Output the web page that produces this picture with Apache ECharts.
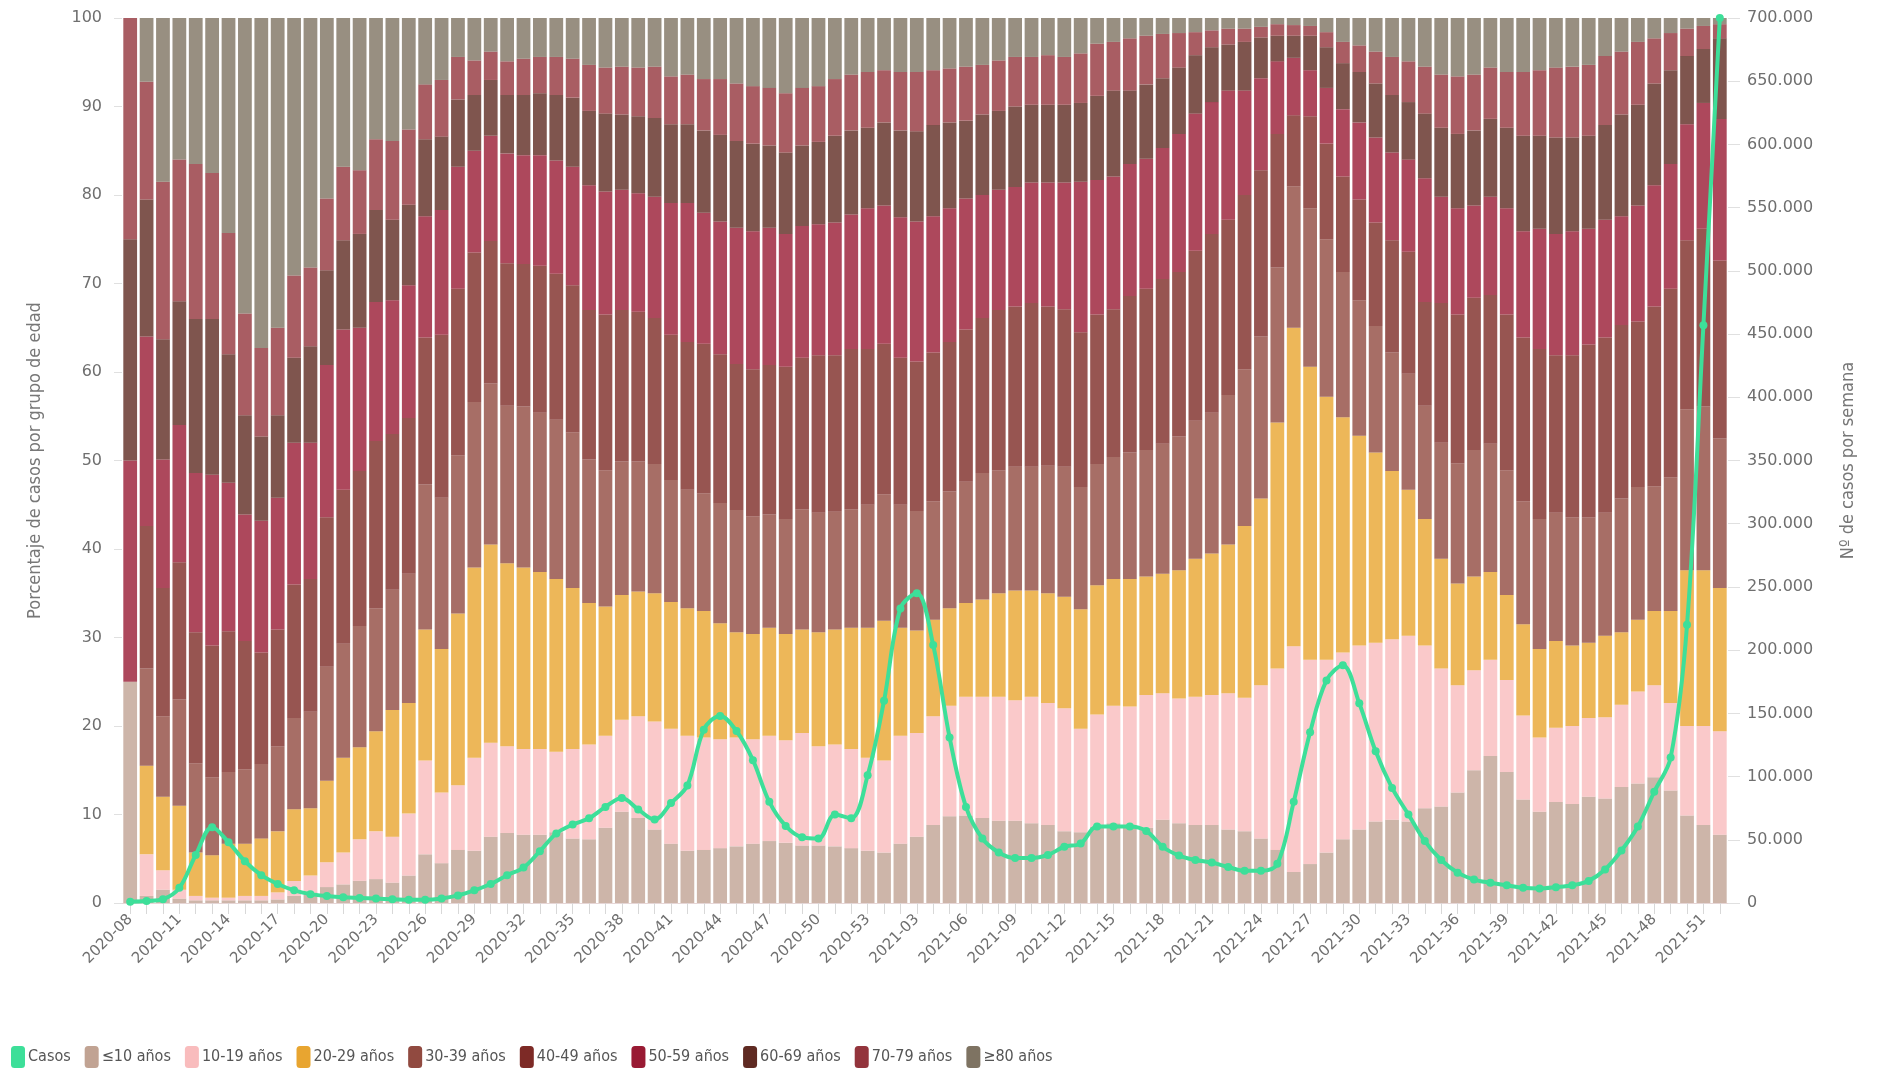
<!DOCTYPE html>
<html>
<head>
<meta charset="utf-8">
<script src="https://cdn.jsdelivr.net/npm/echarts@6/dist/echarts.min.js"></script>
<style>
html,body{margin:0;padding:0;background:#fff;}
#chart{width:1877px;height:1068px;}
</style>
</head>
<body>
<div id="chart"></div>
<script>
// Week labels 2020-08 .. 2020-53, 2021-01 .. 2021-52
const weeks = [
'2020-08','2020-09','2020-10','2020-11','2020-12','2020-13','2020-14','2020-15','2020-16','2020-17',
'2020-18','2020-19','2020-20','2020-21','2020-22','2020-23','2020-24','2020-25','2020-26','2020-27',
'2020-28','2020-29','2020-30','2020-31','2020-32','2020-33','2020-34','2020-35','2020-36','2020-37',
'2020-38','2020-39','2020-40','2020-41','2020-42','2020-43','2020-44','2020-45','2020-46','2020-47',
'2020-48','2020-49','2020-50','2020-51','2020-52','2020-53','2021-01','2021-02','2021-03','2021-04',
'2021-05','2021-06','2021-07','2021-08','2021-09','2021-10','2021-11','2021-12','2021-13','2021-14',
'2021-15','2021-16','2021-17','2021-18','2021-19','2021-20','2021-21','2021-22','2021-23','2021-24',
'2021-25','2021-26','2021-27','2021-28','2021-29','2021-30','2021-31','2021-32','2021-33','2021-34',
'2021-35','2021-36','2021-37','2021-38','2021-39','2021-40','2021-41','2021-42','2021-43','2021-44',
'2021-45','2021-46','2021-47','2021-48','2021-49','2021-50','2021-51','2021-52'];

const groupNames = ['≤10 años','10-19 años','20-29 años','30-39 años','40-49 años','50-59 años','60-69 años','70-79 años','≥80 años'];

const age0_9 = [25,0.8,1.5,0.5,0.3,0.3,0.3,0.3,0.3,0.4,
0.8,1.2,1.8,2.1,2.5,2.7,2.3,3.1,5.5,4.5,
6,5.9,7.5,7.9,7.7,7.7,8,7.3,7.2,8.5,
10.3,9.6,8.3,6.7,5.9,6,6.2,6.4,6.7,7,
6.8,6.5,6.5,6.4,6.2,5.9,5.7,6.7,7.5,8.8,
9.8,9.9,9.6,9.3,9.3,9,8.8,8.1,8,8.6,
9,8.8,8.5,9.4,9,8.8,8.8,8.3,8.1,7.3,
6,3.5,4.4,5.7,7.2,8.3,9.2,9.4,9.2,10.7,
10.9,12.5,15,16.6,14.8,11.7,10.3,11.4,11.2,12,
11.8,13.1,13.5,14.2,12.7,9.9,8.8,7.7];

const age10_19 = [0,4.7,2.2,1,0.5,0.3,0.3,0.5,0.5,0.8,
1.7,1.9,2.8,3.6,4.7,5.4,5.2,7,10.6,8,
7.3,10.5,10.6,9.8,9.7,9.7,9.1,10.1,10.7,10.4,
10.4,11.5,12.2,13,13,12.7,12.3,12.3,11.8,11.9,
11.6,12.7,11.2,11.5,11.2,10.5,10.4,12.2,11.7,12.3,
12.5,13.4,13.7,14,13.6,14.3,13.8,13.9,11.7,12.7,
13.3,13.4,15,14.3,14.1,14.5,14.7,15.4,15.1,17.3,
20.5,25.5,23.1,21.8,21.1,20.8,20.2,20.4,21,18.4,
15.6,12.1,11.3,10.9,10.4,9.5,8.4,8.4,8.8,8.9,
9.2,9.3,10.4,10.4,9.9,10.1,11.2,11.7];

const age20_29 = [0,10,8.3,9.5,4.9,4.8,6.1,5.9,6.5,6.9,
8.1,7.6,9.2,10.7,10.4,11.3,14.3,12.5,14.8,16.2,
19.4,21.5,22.4,20.7,20.5,20,19.5,18.2,16,14.6,
14.1,14.1,14.5,14.3,14.4,14.3,13.1,11.9,11.9,12.2,
12,11.7,12.9,13,13.7,14.7,15.8,12.2,11.6,10.9,
11,10.6,11,11.7,12.4,12,12.4,12.6,13.5,14.6,
14.3,14.4,13.4,13.5,14.5,15.6,16,16.8,19.4,21.1,
27.8,36,33.1,29.7,26.6,23.7,21.5,19,16.5,14.3,
12.4,11.5,10.6,9.9,9.6,10.3,10,9.8,9.1,8.5,
9.2,8.2,8.1,8.4,10.4,17.6,17.6,16.2];

const age30_39 = [0,11,9.1,12,10.1,8.8,8.1,8.4,8.4,9.6,
10.3,10.9,12.9,12.9,13.7,13.9,13.6,14.6,16.4,17.1,
17.9,18.7,18.2,17.8,18.2,18,18,17.6,16.2,15.4,
15.1,14.7,14.6,13.8,13.4,13.3,13.6,13.8,13.3,12.8,
13,13.6,13.5,13.3,13.4,13.9,14.3,13.9,13.5,13.4,
13.2,13.7,14.3,13.9,14,14,14.4,14.7,13.8,13.7,
13.8,14.3,14.3,14.7,15.1,15.6,15.9,16.9,17.7,18.3,
17.5,16,17.9,17.8,16.4,15.3,14.3,13.4,13.1,12.8,
13.1,13.6,14.3,14.5,14.1,13.9,14.7,14.5,14.5,14.2,
13.9,15.1,15,14.1,15.1,18.2,18.5,16.9];

const age40_49 = [0,16.1,14.5,15.5,14.8,14.9,15.9,14.5,12.6,13.2,
15.1,15,16.9,17.4,17.5,18.9,17.6,17.6,16.6,18.4,
18.8,16.9,16.1,16.1,16.1,16.6,16.5,16.6,16.9,17.6,
17.1,16.9,16.5,16.4,16.7,16.9,16.8,16.5,16.6,16.9,
17.2,17.1,17.8,17.7,18.1,17.6,17,16.6,16.9,16.8,
16.9,17.2,17.5,18.1,18.1,18.5,18,17.8,17.5,16.9,
16.7,17.7,18.2,18.6,18.6,19.2,20.2,19.8,19.7,18.8,
15.1,8,10.4,10.8,10.8,11.4,11.7,12.7,13.8,11.7,
15.8,16.8,17.2,16.8,17.6,18.5,19.2,17.8,18.3,19.5,
19.8,19.6,18.7,20.3,21.3,19.1,20.1,20.1];

const age50_59 = [25,21.4,14.5,15.5,18,19.3,16.8,14.3,14.9,14.9,
16,15.4,17.2,18.1,16.2,15.7,15.1,15,13.7,14.1,
13.8,11.5,11.9,12.4,12.3,12.5,12.8,13.4,14.1,13.9,
13.6,13.4,13.7,14.9,15.7,14.8,15,15.4,15.6,15.5,
15,14.9,14.8,15,15.2,15.9,15.6,15.9,15.8,15.4,
15.1,14.8,13.9,13.6,13.5,13.6,14,14.3,17,15.2,
15,14.9,14.7,14.8,15.6,15.5,14.9,14.6,11.8,10.4,
8.2,6.5,5.2,6.3,7.6,8.7,9.6,9.9,10.4,14,
12,12,10.4,11.1,12,12,13.6,13.7,14,13.1,
13.3,12.3,13.1,13.7,14.1,13.1,14.2,16];

const age60_69 = [25,15.5,13.6,14,17.4,17.6,14.5,11.2,9.5,9.3,
9.6,10.9,10.7,10.1,10.6,10.4,9.1,9.1,8.7,8.3,
7.6,6.3,6.3,6.6,6.8,7,7.4,7.8,8.4,8.8,
8.5,8.7,8.9,8.9,8.9,9.3,9.8,9.8,9.9,9.3,
9.2,9.1,9.3,9.8,9.5,9.1,9.4,9.8,10.2,10.3,
9.7,8.8,9.1,8.9,9.1,8.8,8.8,8.8,8.9,9.5,
9.7,8.3,8.4,7.9,7.5,6.6,6.2,5.2,5.5,4.6,
2.9,2.5,3.9,4.6,5.2,5.7,6.1,6.5,6.5,7.3,
7.8,8.4,8.5,8.8,9.1,10.8,10.5,10.9,10.6,10.5,
10.7,11.5,11.4,11.5,10.6,7.7,6.1,9.1];

const age70_79 = [25,13.3,17.8,16,17.5,16.5,13.7,11.5,10,9.9,
9.3,8.9,8.1,8.3,7.2,8,8.9,8.5,6.2,6.4,
4.8,3.9,3.2,3.8,4.1,4.1,4.3,4.4,5.2,5.2,
5.4,5.5,5.8,5.4,5.6,5.8,6.3,6.5,6.5,6.5,
6.7,6.5,6.3,6.4,6.3,6.3,5.9,6.6,6.7,6.2,
6.1,6.1,5.6,5.7,5.6,5.4,5.6,5.4,5.6,5.9,
5.5,5.9,5.5,5,3.9,2.6,1.9,1.8,1.5,1.2,
1.3,1.2,1.1,1.7,2.4,3,3.6,4.3,4.6,5.3,
6,6.5,6.3,5.8,6.3,7.2,7.4,7.9,8,8,
7.8,7.1,7.1,5.1,4.2,3.1,2.6,1.6];

const age80plus = [0,7.2,18.5,16,16.5,17.5,24.3,33.4,37.3,35,
29.1,28.2,20.4,16.8,17.2,13.7,13.9,12.6,7.5,7,
4.4,4.8,3.8,4.9,4.6,4.4,4.4,4.6,5.3,5.6,
5.5,5.6,5.5,6.6,6.4,6.9,6.9,7.4,7.7,7.9,
8.5,7.9,7.7,6.9,6.4,6.1,5.9,6.1,6.1,5.9,
5.7,5.5,5.3,4.8,4.4,4.4,4.2,4.4,4,2.9,
2.7,2.3,2,1.8,1.7,1.6,1.4,1.2,1.2,1,
0.7,0.8,0.9,1.6,2.7,3.1,3.8,4.4,4.9,5.5,
6.4,6.6,6.4,5.6,6.1,6.1,5.9,5.6,5.5,5.3,
4.3,3.8,2.7,2.3,1.7,1.2,0.9,0.7];

const casos = [1000,1500,3000,12000,38000,60000,48000,33000,22000,15000,
10000,7000,5500,4500,4000,3500,3000,2500,2500,3500,
6000,10000,15000,22000,28000,41000,55000,62000,67000,76000,
83000,74000,66000,79000,93000,137000,148000,136000,113000,80000,
61000,52000,51000,70000,67000,101000,160000,233000,245000,204000,
131000,76000,51000,40000,35500,35500,38000,44500,47000,60500,
60500,60500,57000,44500,37500,34000,32000,28500,25500,25500,
31000,80000,135000,176000,188000,158000,120000,91000,70000,49000,
34000,24000,18500,16000,14000,12000,11500,12500,14000,17500,
26500,41500,60500,88000,115000,220000,457000,700000];

const groupColors = ['#c1a393','#f9bcbd','#e8a530','#914a40','#7d2a26','#991a33','#5f2a22','#93343c','#7e7362'];
const casosColor = '#3ddf99';

const groupData = [age0_9, age10_19, age20_29, age30_39, age40_49, age50_59, age60_69, age70_79, age80plus];

const tickFont = "'DejaVu Sans', 'Open Sans', sans-serif";
const condFont = "'Liberation Sans Narrow', 'DejaVu Sans Condensed', 'Roboto Condensed', Roboto, sans-serif";

const chart = echarts.init(document.getElementById('chart'), null, {renderer: 'canvas'});

const series = groupNames.map((n, i) => ({
  name: n,
  type: 'bar',
  stack: 'pct',
  yAxisIndex: 0,
  barCategoryGap: '16%',
  data: groupData[i],
  itemStyle: {color: groupColors[i], opacity: 0.8},
  emphasis: {disabled: true}
}));

series.push({
  name: 'Casos',
  type: 'line',
  yAxisIndex: 1,
  data: casos,
  smooth: 0.35,
  symbol: 'circle',
  symbolSize: 8,
  z: 10,
  lineStyle: {color: casosColor, width: 4},
  itemStyle: {color: casosColor},
  emphasis: {disabled: true}
});

const fmt = v => String(v).replace(/\B(?=(\d{3})+(?!\d))/g, '.');

chart.setOption({
  animation: false,
  backgroundColor: '#fff',
  grid: {left: 122, right: 149, top: 18, bottom: 165, containLabel: false},
  legend: {
    data: ['Casos'].concat(groupNames),
    left: 6,
    top: 1041,
    icon: 'roundRect',
    itemWidth: 14,
    itemHeight: 22,
    itemGap: 14,
    itemStyle: {opacity: 1},
    textStyle: {fontFamily: condFont, fontSize: 16, color: '#555', padding: [0, 0, 0, -2]}
  },
  xAxis: {
    type: 'category',
    data: weeks,
    axisLine: {show: true, lineStyle: {color: '#e6d6d6'}},
    axisTick: {show: true, interval: 0, alignWithLabel: true, length: 11, lineStyle: {color: '#d8d8d8'}},
    axisLabel: {interval: 2, rotate: 45, fontFamily: tickFont, fontSize: 15, color: '#6f6f6f', margin: 14}
  },
  yAxis: [
    {
      type: 'value', min: 0, max: 100, interval: 10,
      name: 'Porcentaje de casos por grupo de edad',
      nameLocation: 'middle', nameGap: 78, nameRotate: 90,
      nameTextStyle: {fontFamily: condFont, fontSize: 18, color: '#777'},
      axisLine: {show: false},
      axisTick: {show: true, length: 8, lineStyle: {color: '#e0e0e0'}},
      splitLine: {show: false},
      axisLabel: {fontFamily: tickFont, fontSize: 16, color: '#6f6f6f', margin: 20}
    },
    {
      type: 'value', min: 0, max: 700000, interval: 50000,
      name: 'Nº de casos por semana',
      nameLocation: 'middle', nameGap: 111, nameRotate: 90,
      nameTextStyle: {fontFamily: condFont, fontSize: 18, color: '#777'},
      axisLine: {show: false},
      axisTick: {show: true, length: 12, lineStyle: {color: '#e0e0e0'}},
      splitLine: {show: false},
      axisLabel: {fontFamily: tickFont, fontSize: 16, color: '#6f6f6f', margin: 19, formatter: fmt}
    }
  ],
  series: series
});
</script>
</body>
</html>
